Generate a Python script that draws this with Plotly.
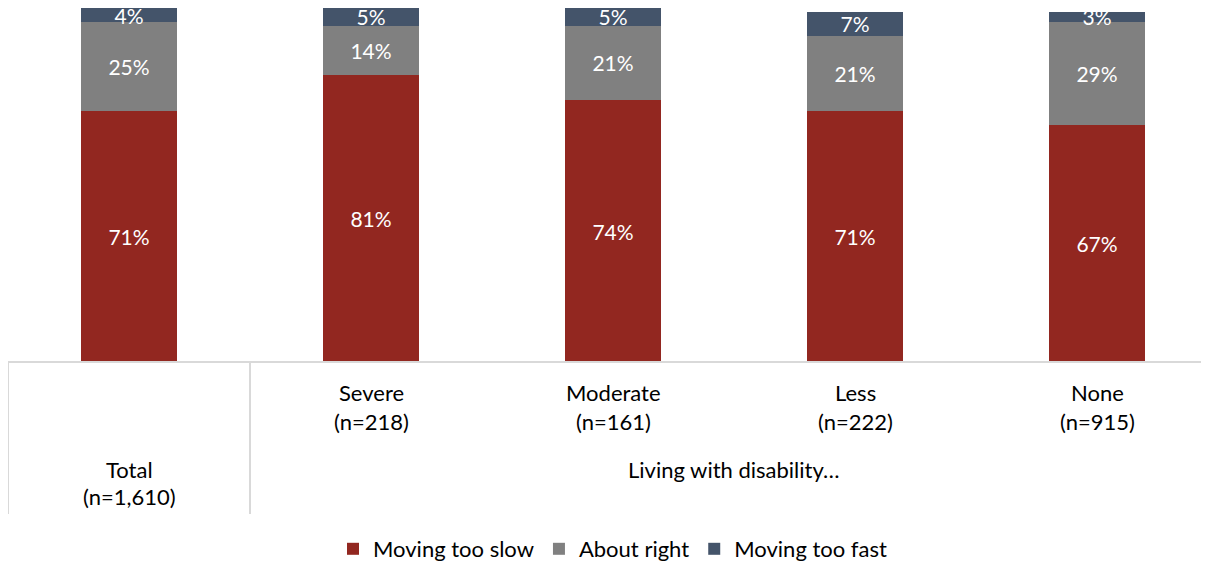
import plotly.graph_objects as go

categories = ["Total", "Severe", "Moderate", "Less", "None"]
n_labels = ["(n=1,610)", "(n=218)", "(n=161)", "(n=222)", "(n=915)"]
group_label = "Living with disability…"

too_slow = [71, 81, 74, 71, 67]
about_right = [25, 14, 21, 21, 29]
too_fast = [4, 5, 5, 7, 3]

series = [
    ("Moving too slow", too_slow, "#922720"),
    ("About right", about_right, "#808080"),
    ("Moving too fast", too_fast, "#44546A"),
]

FONT = "Lato, 'Open Sans', sans-serif"
# page body has an 8px margin; plot area top sits at page y=8
W, H = 1209, 575
top, bottom_px = 8, 362
plot_h = bottom_px - top

def py(p):
    return (bottom_px - p) / plot_h

x = list(range(len(categories)))
fig = go.Figure()
for name, vals, color in series:
    fig.add_trace(go.Bar(
        x=x, y=vals, name=name, width=0.4,
        marker=dict(color=color, line=dict(width=0)),
        text=[f"{v}%" for v in vals], textposition="inside",
        insidetextanchor="middle", textangle=0, constraintext="none",
        textfont=dict(color="white", size=21, family=FONT),
        hoverinfo="skip",
    ))

shapes = [
    dict(type="line", xref="paper", yref="paper", x0=0, x1=1, y0=0, y1=0,
         line=dict(color="#d9d9d9", width=2)),
    dict(type="line", xref="x", yref="paper", x0=-0.5, x1=-0.5, y0=0, y1=py(514),
         line=dict(color="#d9d9d9", width=2)),
    dict(type="line", xref="x", yref="paper", x0=0.5, x1=0.5, y0=0, y1=py(514),
         line=dict(color="#d9d9d9", width=2)),
]

annotations = []
for i, (c, n) in enumerate(zip(categories, n_labels)):
    y1, y2 = (469, 497) if i == 0 else (393, 421)
    annotations.append(dict(x=i, y=py(y1), xref="x", yref="paper", text=c, showarrow=False,
                            font=dict(size=22, family=FONT, color="#000"), yanchor="middle"))
    annotations.append(dict(x=i, y=py(y2), xref="x", yref="paper", text=n, showarrow=False,
                            font=dict(size=22, family=FONT, color="#000"), yanchor="middle"))
annotations.append(dict(x=2.5, y=py(469), xref="x", yref="paper", text=group_label, showarrow=False,
                        font=dict(size=22, family=FONT, color="#000"), yanchor="middle"))

fig.update_layout(
    width=W, height=H, barmode="stack",
    margin=dict(l=0, r=0, t=0, b=H - plot_h, pad=0, autoexpand=False),
    plot_bgcolor="white", paper_bgcolor="white",
    xaxis=dict(range=[-0.5, -0.5 + W / 242], showticklabels=False, showgrid=False,
               zeroline=False, showline=False, ticks=""),
    yaxis=dict(range=[0, 100], visible=False, showgrid=False, zeroline=False),
    shapes=shapes, annotations=annotations,
    legend=dict(orientation="h", x=0.5, xanchor="center", y=py(549), yanchor="middle",
                font=dict(size=22, family=FONT, color="#000"), traceorder="normal",
                itemwidth=30, bgcolor="rgba(0,0,0,0)"),
    bargap=0.6,
)

fig.write_html("out.html")
